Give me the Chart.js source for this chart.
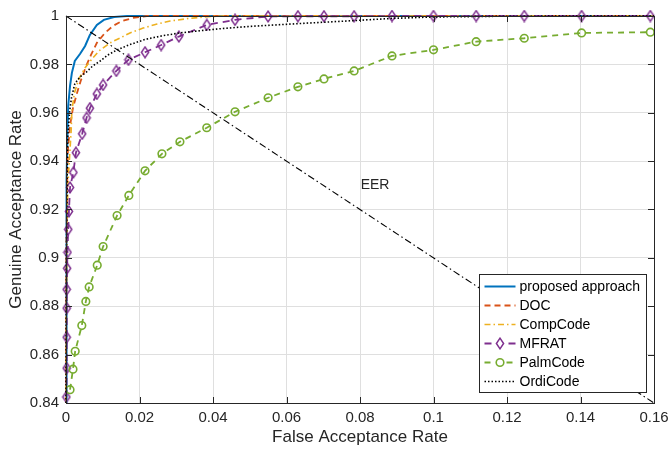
<!DOCTYPE html>
<html>
<head>
<meta charset="utf-8">
<script src="https://cdn.jsdelivr.net/npm/chart.js@4.4.1/dist/chart.umd.min.js"></script>
<style>
  html, body { margin: 0; padding: 0; background: #fff; }
  #wrap { width: 668px; height: 451px; }
</style>
</head>
<body>
<div id="wrap"><canvas id="rocChart"></canvas></div>
<script>
const xTicks = [0, 0.02, 0.04, 0.06, 0.08, 0.1, 0.12, 0.14, 0.16];
const yTicks = [0.84, 0.86, 0.88, 0.9, 0.92, 0.94, 0.96, 0.98, 1];

// proposed approach
const propFar = [0, 0.0001, 0.0002, 0.0004, 0.0006, 0.0011, 0.0016, 0.0024, 0.0038, 0.0052, 0.0065, 0.0084, 0.0103, 0.0131, 0.0166, 0.03, 0.06, 0.1, 0.16];
const propGar = [0.84, 0.903, 0.932, 0.9526, 0.9629, 0.9711, 0.9765, 0.9814, 0.9843, 0.9876, 0.9922, 0.9963, 0.9984, 0.9996, 1, 1, 1, 1, 1];

// DOC
const docFar = [0, 0.0001, 0.0003, 0.0005, 0.0011, 0.0019, 0.003, 0.0041, 0.0054, 0.0068, 0.0084, 0.0106, 0.0128, 0.0152, 0.0182, 0.022, 0.04, 0.08, 0.16];
const docGar = [0.84, 0.903, 0.9278, 0.9443, 0.9546, 0.962, 0.9682, 0.9736, 0.979, 0.9839, 0.9889, 0.993, 0.9959, 0.9979, 0.9992, 1, 1, 1, 1];

// CompCode
const compFar = [0, 0.0001, 0.0003, 0.0005, 0.001, 0.0014, 0.0016, 0.0023, 0.0035, 0.0052, 0.0071, 0.009, 0.012, 0.0147, 0.0174, 0.021, 0.0248, 0.0283, 0.0329, 0.0384, 0.0427, 0.08, 0.16];
const compGar = [0.84, 0.8825, 0.9113, 0.9299, 0.9423, 0.9526, 0.9608, 0.9682, 0.974, 0.9786, 0.9823, 0.9856, 0.9889, 0.9909, 0.993, 0.995, 0.9967, 0.9979, 0.9989, 0.9997, 1, 1, 1];

// MFRAT
const mfratFar = [0.0001, 0.0002, 0.0002, 0.0002, 0.0002, 0.0003, 0.0004, 0.0006, 0.0008, 0.0011, 0.002, 0.0027, 0.0044, 0.0056, 0.0065, 0.0084, 0.0101, 0.0137, 0.017, 0.0215, 0.0259, 0.0307, 0.0383, 0.046, 0.055, 0.0631, 0.0702, 0.0784, 0.0887, 0.1, 0.1116, 0.1247, 0.1403, 0.159];
const mfratGar = [0.8425, 0.8544, 0.8672, 0.8792, 0.887, 0.8957, 0.9023, 0.9118, 0.9192, 0.9291, 0.9353, 0.9435, 0.9513, 0.9579, 0.9619, 0.9678, 0.9715, 0.9773, 0.9819, 0.985, 0.988, 0.9915, 0.9963, 0.9984, 0.9998, 0.9999, 0.9999, 0.9999, 1, 1, 1, 1, 1, 1];

// PalmCode
const palmFar = [0.0011, 0.0019, 0.0025, 0.0043, 0.0054, 0.0063, 0.0085, 0.0101, 0.0139, 0.0171, 0.0215, 0.0261, 0.031, 0.0383, 0.046, 0.055, 0.0631, 0.0702, 0.0784, 0.0887, 0.1, 0.1116, 0.1247, 0.1403, 0.159];
const palmGar = [0.8455, 0.854, 0.8614, 0.872, 0.882, 0.888, 0.897, 0.9047, 0.9175, 0.9258, 0.936, 0.943, 0.948, 0.9538, 0.9604, 0.9662, 0.9707, 0.974, 0.9773, 0.9835, 0.986, 0.9894, 0.9908, 0.993, 0.9933];

// OrdiCode
const ordiFar = [0, 0.0001, 0.0003, 0.0005, 0.001, 0.0015, 0.0024, 0.0038, 0.0056, 0.0073, 0.0093, 0.0114, 0.0139, 0.0174, 0.0215, 0.0261, 0.031, 0.037, 0.0424, 0.05, 0.0637, 0.0784, 0.0887, 0.1, 0.118, 0.16];
const ordiGar = [0.84, 0.899, 0.932, 0.9505, 0.9608, 0.9662, 0.972, 0.9748, 0.9769, 0.9794, 0.9814, 0.9839, 0.986, 0.9882, 0.9903, 0.9918, 0.993, 0.994, 0.9948, 0.9957, 0.9969, 0.9981, 0.999, 0.9996, 0.9999, 1];

// EER diagonal
const eerFar = [0, 0.16];
const eerGar = [1, 0.84];
const eerLabelAt = [0.0841, 0.930];

const axisColor = '#262626';
const fontFamily = '"Liberation Sans", Arial, Helvetica, sans-serif';
const tickLen = 6;

function pairs(xs, ys) {
    return xs.map((v, i) => ({ x: v, y: ys[i] }));
}

/* hollow diamond, taller than wide like matlab */
function makeDiamond(color) {
    const c = document.createElement('canvas');
    c.width = 10;
    c.height = 13;
    const g = c.getContext('2d');
    g.strokeStyle = color;
    g.lineWidth = 1.5;
    g.beginPath();
    g.moveTo(5, 1.2);
    g.lineTo(8.6, 6.5);
    g.lineTo(5, 11.8);
    g.lineTo(1.4, 6.5);
    g.closePath();
    g.stroke();
    return c;
}

const diamond = makeDiamond('#7E2F8E');

const datasets = [
    { label: 'proposed approach', data: pairs(propFar, propGar), borderColor: '#0072BD', borderWidth: 2, borderDash: [], pointRadius: 0, order: 6 },
    { label: 'DOC', data: pairs(docFar, docGar), borderColor: '#D95319', borderWidth: 1.8, borderDash: [6, 4], pointRadius: 0, order: 5 },
    { label: 'CompCode', data: pairs(compFar, compGar), borderColor: '#EDB120', borderWidth: 1.6, borderDash: [6, 3, 1.5, 3], pointRadius: 0, order: 4 },
    { label: 'MFRAT', data: pairs(mfratFar, mfratGar), borderColor: '#7E2F8E', borderWidth: 1.8, borderDash: [7, 5], pointStyle: diamond, pointRadius: 5, order: 3 },
    { label: 'PalmCode', data: pairs(palmFar, palmGar), borderColor: '#77AC30', borderWidth: 1.8, borderDash: [6, 5], pointStyle: 'circle', pointRadius: 3.8, pointBorderWidth: 1.6, pointBackgroundColor: 'rgba(255,255,255,0)', pointBorderColor: '#77AC30', order: 2 },
    { label: 'OrdiCode', data: pairs(ordiFar, ordiGar), borderColor: '#000000', borderWidth: 1.6, borderDash: [1.5, 2], pointRadius: 0, order: 1 },
    { label: 'EER', data: pairs(eerFar, eerGar), borderColor: '#000000', borderWidth: 1.1, borderDash: [7, 3, 1.5, 3], pointRadius: 0, order: 0, noLegend: true }
];

datasets.forEach(d => {
    d.fill = false;
    d.tension = 0;
    d.clip = 6;
    d.backgroundColor = d.borderColor;
});

/* box, inward ticks, EER label, legend */
const matlabFrame = {
    id: 'matlabFrame',
    afterDatasetsDraw(chart) {
        const { ctx, chartArea: a, scales: { x, y } } = chart;
        ctx.save();
        ctx.strokeStyle = axisColor;
        ctx.lineWidth = 1;
        ctx.setLineDash([]);
        ctx.beginPath();
        xTicks.forEach(v => {
            const px = Math.round(x.getPixelForValue(v)) + 0.5;
            ctx.moveTo(px, a.bottom);
            ctx.lineTo(px, a.bottom - tickLen);
            ctx.moveTo(px, a.top);
            ctx.lineTo(px, a.top + tickLen);
        });
        yTicks.forEach(v => {
            const py = Math.round(y.getPixelForValue(v)) + 0.5;
            ctx.moveTo(a.left, py);
            ctx.lineTo(a.left + tickLen, py);
            ctx.moveTo(a.right, py);
            ctx.lineTo(a.right - tickLen, py);
        });
        ctx.stroke();
        ctx.strokeRect(Math.round(a.left) + 0.5, Math.round(a.top) + 0.5,
            Math.round(a.right - a.left), Math.round(a.bottom - a.top));

        ctx.fillStyle = axisColor;
        ctx.font = '14px ' + fontFamily;
        ctx.textAlign = 'center';
        ctx.textBaseline = 'middle';
        ctx.fillText('EER', x.getPixelForValue(eerLabelAt[0]), y.getPixelForValue(eerLabelAt[1]));
        ctx.restore();
    },
    afterDraw(chart) {
        const { ctx, chartArea: a } = chart;
        const items = chart.data.datasets.filter(d => !d.noLegend);
        ctx.save();
        ctx.font = '14px ' + fontFamily;
        const textW = Math.max(...items.map(d => ctx.measureText(d.label).width));
        const rowH = 19;
        const sampleW = 31;
        const w = 5 + sampleW + 4 + textW + 6;
        const h = items.length * rowH + 4;
        const right = a.right - 8;
        const bottom = a.bottom - 11;
        const left = Math.round(right - w) + 0.5;
        const top = Math.round(bottom - h) + 0.5;

        ctx.fillStyle = '#ffffff';
        ctx.fillRect(left, top, w, h);
        ctx.strokeStyle = axisColor;
        ctx.lineWidth = 1;
        ctx.strokeRect(left, top, Math.round(w), Math.round(h));

        items.forEach((d, i) => {
            const cy = top + 12 + i * rowH;
            const x0 = left + 5;
            ctx.strokeStyle = d.borderColor;
            ctx.lineWidth = d.borderWidth;
            ctx.setLineDash(d.borderDash);
            ctx.beginPath();
            ctx.moveTo(x0, cy);
            ctx.lineTo(x0 + sampleW, cy);
            ctx.stroke();
            ctx.setLineDash([]);
            const mx = x0 + sampleW / 2;
            if (d.pointStyle === diamond) {
                ctx.fillStyle = '#ffffff';
                ctx.fillRect(mx - 5, cy - 6, 10, 12);
                ctx.drawImage(diamond, mx - diamond.width / 2, cy - diamond.height / 2);
            } else if (d.pointStyle === 'circle') {
                ctx.fillStyle = '#ffffff';
                ctx.fillRect(mx - 5, cy - 5, 10, 10);
                ctx.lineWidth = 1.6;
                ctx.beginPath();
                ctx.arc(mx, cy, 3.8, 0, Math.PI * 2);
                ctx.stroke();
            }
            ctx.fillStyle = '#000000';
            ctx.textAlign = 'left';
            ctx.textBaseline = 'middle';
            ctx.fillText(d.label, x0 + sampleW + 4, cy + 1);
        });
        ctx.restore();
    }
};

new Chart(document.getElementById('rocChart'), {
    type: 'line',
    data: { datasets: datasets },
    plugins: [matlabFrame],
    options: {
        responsive: true,
        maintainAspectRatio: false,
        animation: false,
        parsing: true,
        layout: { padding: { top: 15, right: 14, left: 0, bottom: 0 } },
        plugins: {
            legend: { display: false },
            tooltip: { enabled: false }
        },
        scales: {
            x: {
                type: 'linear',
                min: 0,
                max: 0.16,
                afterBuildTicks: s => { s.ticks = xTicks.map(v => ({ value: v })); },
                afterFit: s => { s.height = 48; s.paddingLeft = 0; s.paddingRight = 0; },
                grid: { color: '#dfdfdf', lineWidth: 1, drawTicks: false },
                border: { display: false },
                ticks: {
                    autoSkip: false,
                    maxRotation: 0,
                    padding: 6,
                    color: axisColor,
                    font: { family: fontFamily, size: 15 },
                    callback: v => String(+v.toFixed(2))
                },
                title: {
                    display: true,
                    text: 'False Acceptance Rate',
                    color: axisColor,
                    font: { family: fontFamily, size: 17 },
                    padding: { top: 0, bottom: 3 }
                }
            },
            y: {
                type: 'linear',
                min: 0.84,
                max: 1,
                afterBuildTicks: s => { s.ticks = yTicks.map(v => ({ value: v })); },
                afterFit: s => { s.width = 66; },
                grid: { color: '#dfdfdf', lineWidth: 1, drawTicks: false },
                border: { display: false },
                ticks: {
                    padding: 7,
                    color: axisColor,
                    font: { family: fontFamily, size: 15 },
                    callback: v => String(+v.toFixed(2))
                },
                title: {
                    display: true,
                    text: 'Genuine Acceptance Rate',
                    color: axisColor,
                    font: { family: fontFamily, size: 17 },
                    padding: { top: 6, bottom: 0 }
                }
            }
        }
    }
});
</script>
</body>
</html>
